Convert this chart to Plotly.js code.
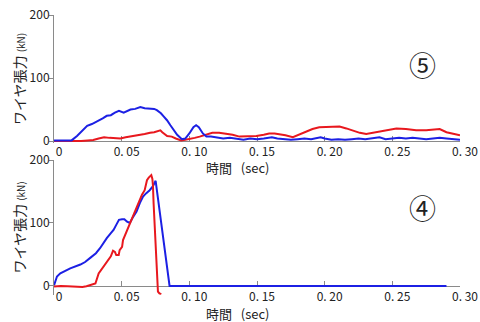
<!DOCTYPE html>
<html>
<head>
<meta charset="utf-8">
<script src="https://cdn.plot.ly/plotly-3.0.1.min.js"></script>
<style>html,body{margin:0;padding:0;background:#fff}#chart{width:480px;height:322px}</style>
</head>
<body>
<div id="chart"></div>
<script>
// ---- data ----
const tickVals = [0, 0.05, 0.10, 0.15, 0.20, 0.25, 0.30];
const tickText = ["0", "0. 05", "0. 10", "0. 15", "0. 20", "0. 25", "0. 30"];
const yTickVals = [0, 100, 200];

// panel ⑤ (top)
const t5Blue = [0,0.005,0.010,0.013,0.017,0.021,0.0245,0.028,0.032,0.036,0.039,0.042,0.045,0.048,0.0515,0.054,0.0565,0.060,0.0638,0.067,0.0712,0.074,0.076,0.079,0.081,0.0835,0.086,0.0884,0.091,0.0945,0.097,0.100,0.103,0.105,0.107,0.110,0.1126,0.116,0.120,0.125,0.130,0.135,0.140,0.145,0.150,0.155,0.161,0.165,0.170,0.175,0.180,0.185,0.190,0.195,0.197,0.200,0.205,0.210,0.215,0.220,0.225,0.230,0.235,0.2405,0.245,0.250,0.255,0.260,0.265,0.270,0.275,0.280,0.285,0.290,0.295,0.300];
const f5Blue = [1,1,0.5,1,8,17,24,27,31,36,40,41,45,48,45,48,50,51,54,52,52,51,49,44,39,33,25,17,10,3,4,12,22,25,22,12,7,7,6,4,5,3,2,4,3,4,6,4,3,2,3,4,3,5,6,4,2,3,2,3,4,3,4,6,3,4,5,4,5,4,3,4,5,4,3,2];
const t5Red = [0,0.01,0.02,0.025,0.029,0.033,0.037,0.041,0.045,0.049,0.053,0.056,0.059,0.063,0.067,0.071,0.074,0.0786,0.080,0.0836,0.087,0.090,0.094,0.097,0.100,0.104,0.1076,0.112,0.117,0.122,0.127,0.132,0.137,0.142,0.1495,0.155,0.159,0.163,0.1667,0.171,0.1765,0.181,0.186,0.191,0.196,0.2036,0.211,0.216,0.221,0.226,0.2307,0.236,0.2405,0.247,0.253,0.260,0.2676,0.275,0.280,0.285,0.290,0.2984,0.300];
const f5Red = [0,-0.5,0,1,1.5,4,6,5,4,4,6,7,8,9,11,13,14,17,14,8,7,4,1,2,3,5,7,10,13,13,12,10,7,7,8,10,12,12,11,9,6,10,15,19,22,23,23,20,16,13,11,13,15,18,20,19,17,17,18,19,14,10,9];

// panel ④ (bottom)
const t4Blue = [0,0.001,0.0022,0.0047,0.008,0.012,0.0195,0.023,0.027,0.031,0.034,0.037,0.039,0.042,0.044,0.046,0.048,0.0503,0.052,0.054,0.056,0.058,0.061,0.0635,0.0658,0.068,0.0707,0.073,0.0751,0.0854,0.290];
const f4Blue = [1,8,15,20,24,28,34,38,45,52,60,70,76,84,89,97,105,106,106,102,100,108,118,132,142,147,152,158,167,0,0];
const t4Red = [0,0.005,0.010,0.014,0.018,0.021,0.024,0.027,0.0306,0.033,0.035,0.0367,0.0404,0.042,0.0436,0.045,0.046,0.0478,0.0485,0.0503,0.051,0.0535,0.056,0.0584,0.061,0.0633,0.065,0.067,0.0687,0.070,0.0719,0.0727,0.0731,0.0736,0.0749,0.0761,0.0768,0.078,0.0793];
const f4Red = [-1,0,-0.5,-1,-2,-1.5,-0.5,1,4,20,26,31,41,47,56,54,49,49,57,62,73,86,99,110,124,137,145,152,168,172,176,170,160,131,78,10,-9,-12,-13];

const panelLabels = ["⑤", "④"];
const yTitle = "ワイヤ張力 <span style='font-size:10px'>(kN)</span>";
const xTitle = "時間\u00a0\u00a0 (sec)";

// ---- styles ----
const RED = "rgb(232,24,30)";
const BLUE = "rgb(28,32,228)";
const GRAY = "#8a8a8a";
const FONT = "Noto Sans CJK JP, sans-serif";

function line(x, y, color, xa, ya) {
  return {x: x, y: y, type: "scatter", mode: "lines", xaxis: xa, yaxis: ya,
          line: {color: color, width: 2}, hoverinfo: "skip", showlegend: false};
}

const traces = [
  line(t5Red, f5Red, RED, "x", "y"),
  line(t5Blue, f5Blue, BLUE, "x", "y"),
  line(t4Blue, f4Blue, BLUE, "x2", "y2"),
  line(t4Red, f4Red, RED, "x2", "y2")
];

function xAxis(pos) {
  return {
    range: [0, 0.30], anchor: "free", position: pos,
    tickvals: tickVals, ticktext: tickText, ticks: "inside", ticklen: 5,
    tickcolor: GRAY, showline: true, linecolor: GRAY, linewidth: 1,
    showgrid: false, zeroline: false, ticklabelshift: 5,
    tickfont: {family: FONT, size: 12, color: "#222"}, layer: "below traces"
  };
}
function yAxis(domain, range, xref) {
  return {
    domain: domain, range: range, anchor: xref,
    tickvals: yTickVals, ticks: "outside", ticklen: 4, tickcolor: GRAY,
    showline: true, linecolor: GRAY, linewidth: 1, showgrid: false, zeroline: false,
    ticklabelstandoff: -3,
    tickfont: {family: FONT, size: 12, color: "#222"},
    title: {text: yTitle, font: {family: FONT, size: 14, color: "#222"}, standoff: 0}
  };
}

const layout = {
  width: 480, height: 322,
  margin: {l: 54, r: 20, t: 10, b: 10},
  paper_bgcolor: "#fff", plot_bgcolor: "rgba(0,0,0,0)",
  showlegend: false,
  xaxis: xAxis(0.5662),
  yaxis: yAxis([0.5599, 0.9834], [-3, 200], "x"),
  xaxis2: xAxis(0.0861),
  yaxis2: yAxis([0.0570, 0.5033], [-14, 200], "x2"),
  annotations: [
    {text: panelLabels[0], xref: "x", yref: "y", x: 0.272, y: 122, showarrow: false,
     font: {family: FONT, size: 27, color: "#222"}},
    {text: panelLabels[1], xref: "x2", yref: "y2", x: 0.272, y: 124, showarrow: false,
     font: {family: FONT, size: 27, color: "#222"}},
    {text: xTitle, xref: "paper", yref: "paper", x: 0.453, y: 0.478, showarrow: false,
     xanchor: "center", yanchor: "middle", font: {family: FONT, size: 13, color: "#222"}},
    {text: xTitle, xref: "paper", yref: "paper", x: 0.453, y: -0.004, showarrow: false,
     xanchor: "center", yanchor: "middle", font: {family: FONT, size: 13, color: "#222"}}
  ]
};

Plotly.newPlot("chart", traces, layout, {staticPlot: true, displayModeBar: false});
</script>
</body>
</html>
